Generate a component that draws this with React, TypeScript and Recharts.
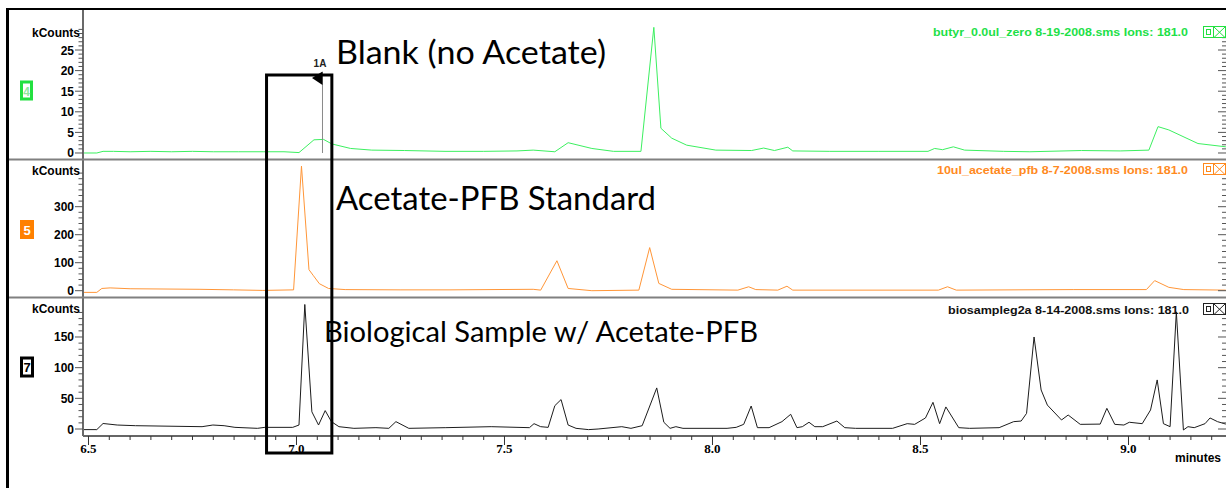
import React from 'react';
import { LineChart, Line, XAxis, YAxis } from 'recharts';

// ---------- data ----------
const blankTimes = [6.487, 6.52, 6.535, 6.56, 6.6, 6.65, 6.7, 6.75, 6.8, 6.86, 6.92, 6.97, 7.006, 7.042, 7.065, 7.085, 7.13, 7.181, 7.26, 7.357, 7.45, 7.53, 7.569, 7.621, 7.653, 7.71, 7.762, 7.828, 7.859, 7.876, 7.902, 7.938, 8.008, 8.094, 8.123, 8.149, 8.181, 8.193, 8.282, 8.4, 8.518, 8.534, 8.553, 8.579, 8.606, 8.7, 8.763, 8.887, 8.98, 9.049, 9.071, 9.097, 9.167, 9.234];
const blankValues = [0, 0, 0.4, 0.4, 0.3, 0.4, 0.3, 0.4, 0.3, 0.3, 0.3, 0.3, 0.1, 3.2, 3.3, 2.2, 1.1, 0.7, 0.6, 0.4, 0.4, 0.5, 0.7, 0.3, 2.5, 1.1, 0.4, 0.4, 30.5, 6.0, 3.6, 1.9, 0.7, 0.6, 1.2, 0.6, 1.4, 0.5, 0.4, 0.4, 0.4, 1.1, 0.8, 1.5, 0.7, 0.4, 0.3, 0.6, 0.5, 0.7, 6.4, 5.6, 2.3, 1.5];

const stdTimes = [6.487, 6.52, 6.532, 6.552, 6.6, 6.768, 6.849, 6.919, 6.993, 7.012, 7.03, 7.04, 7.055, 7.077, 7.117, 7.249, 7.369, 7.569, 7.587, 7.626, 7.653, 7.71, 7.823, 7.849, 7.871, 7.902, 8.061, 8.087, 8.104, 8.157, 8.179, 8.193, 8.543, 8.565, 8.586, 8.867, 9.043, 9.063, 9.097, 9.133, 9.234];
const stdValues = [-6, -6, 8, 10, 7, 5, 3, 1, 3, 445, 75, 55, 25, 8, 4, 3, 3, 5, 2, 107, 8, 0, 2, 154, 26, 5, 2, 14, 4, 2, 16, 2, 2, 14, 2, 4, 4, 36, 12, 4, 2];

const bioTimes = [6.487, 6.52, 6.535, 6.569, 6.613, 6.773, 6.799, 6.826, 6.852, 6.906,
  6.924, 6.991, 7.006, 7.02, 7.037, 7.053, 7.069, 7.084, 7.102, 7.138,
  7.191, 7.222, 7.239, 7.27, 7.359, 7.468, 7.56, 7.571, 7.587, 7.605,
  7.621, 7.636, 7.653, 7.672, 7.702, 7.725, 7.782, 7.804, 7.831, 7.866,
  7.883, 7.898, 7.912, 7.929, 8.035, 8.057, 8.075, 8.093, 8.108, 8.136,
  8.167, 8.188, 8.203, 8.216, 8.232, 8.246, 8.265, 8.299, 8.318, 8.344,
  8.433, 8.468, 8.486, 8.512, 8.53, 8.546, 8.561, 8.592, 8.618, 8.689,
  8.724, 8.742, 8.755, 8.773, 8.79, 8.805, 8.839, 8.855, 8.884, 8.932,
  8.948, 8.967, 8.989, 9.002, 9.033, 9.053, 9.069, 9.084, 9.1, 9.115,
  9.132, 9.143, 9.158, 9.184, 9.196, 9.214, 9.234];
const bioValues = [-1, -1, 9, 6.5, 5.4, 3.8, 6.5, 5.4, 2.7, 1.1,
  2.7, 2.7, 6.5, 203, 28, 6.5, 30, 12, 3.8, 1.1,
  2.2, 1.1, 12, 1.1, 2.2, 3.8, 2.2, 8.7, 3.8, 2.7,
  38, 48, 6.5, 1.1, -1, 0, 3.8, 1.1, 5.4, 67,
  11, 1.1, 3.8, 1.1, 1.1, 2.7, 7.6, 37.5, 2.2, 2.2,
  12, 24, 2.2, 3.8, 11, 3.8, 3.8, 13, 2.2, 1.1,
  1.1, 8.7, 7.6, 18, 43.5, 8.7, 36, 2.2, 1.1, 2.2,
  12, 13, 25.5, 150, 63.6, 39, 14.7, 22.8, 7.6, 8,
  33.7, 7.6, 6.5, 11, 8.7, 31, 80, 8.7, 3.8, 191,
  -1.6, 3.8, 2.2, 8.7, 18, 12, 8];

const blankMajorTicks = [0, 5, 10, 15, 20, 25];
const stdMajorTicks = [0, 100, 200, 300];
const bioMajorTicks = [0, 50, 100, 150];
const xMajorLabels = [6.5, 7.0, 7.5, 8.0, 8.5, 9.0];

const titles = [
  'butyr_0.0ul_zero 8-19-2008.sms Ions: 181.0',
  '10ul_acetate_pfb 8-7-2008.sms Ions: 181.0',
  'biosampleg2a 8-14-2008.sms Ions: 181.0',
];
const annotations = ['Blank (no Acetate)', 'Acetate-PFB Standard', 'Biological Sample w/ Acetate-PFB'];

// ---------- layout ----------
const W = 1226;
const H = 488;
const PLOT_LEFT = 83;
const PLOT_RIGHT = 1227;
const X_DOMAIN: [number, number] = [6.4868, 9.2368];
const xOf = (t: number) => PLOT_LEFT + ((t - X_DOMAIN[0]) / (X_DOMAIN[1] - X_DOMAIN[0])) * (PLOT_RIGHT - PLOT_LEFT);

const zip = (ts: number[], vs: number[]) => ts.map((t, i) => ({ t, v: vs[i] }));
const blankData = zip(blankTimes, blankValues);
const stdData = zip(stdTimes, stdValues);
const bioData = zip(bioTimes, bioValues);

const range = (a: number, b: number, s: number) => {
  const out: number[] = [];
  for (let v = a; v <= b + 1e-9; v += s) out.push(Math.round(v * 100) / 100);
  return out;
};
const xTicks = range(6.5, 9.2, 0.05);

const SANS = "'Liberation Sans', Arial, sans-serif";
const SERIF = "'Liberation Serif', 'Times New Roman', serif";

const makeYTick = (majors: number[]) => (props: any) => {
  const { x, y, payload } = props;
  const v = payload.value;
  const major = majors.indexOf(v) >= 0;
  return (
    <g>
      <line x1={x - (major ? 8 : 4.5)} x2={x} y1={y} y2={y} stroke="#555" strokeWidth={1} />
      <line x1={W - (major ? 8 : 4)} x2={W} y1={y} y2={y} stroke="#555" strokeWidth={1} />
      {major && (
        <text x={x - 9} y={y} dy={4.5} textAnchor="end" fontFamily={SANS} fontWeight="bold" fontSize={12} fill="#000">
          {v}
        </text>
      )}
    </g>
  );
};

const XTick = (props: any) => {
  const { x, y, payload } = props;
  const v = payload.value;
  const major = xMajorLabels.some((m) => Math.abs(m - v) < 1e-6);
  return (
    <g>
      <line x1={x} x2={x} y1={y} y2={y + (major ? 9 : 4)} stroke="#333" strokeWidth={1} />
      {major && (
        <text x={x} y={y + 17} textAnchor="middle" fontFamily={SERIF} fontWeight="bold" fontSize={13} fill="#000">
          {v.toFixed(1)}
        </text>
      )}
    </g>
  );
};

type PanelProps = {
  data: { t: number; v: number }[];
  top: number;
  bottom: number;
  domain: [number, number];
  ticks: number[];
  majors: number[];
  color: string;
  showX?: boolean;
};

const Panel = ({ data, top, bottom, domain, ticks, majors, color, showX }: PanelProps) => (
  <div style={{ position: 'absolute', left: 0, top: 0 }}>
    <LineChart
      width={PLOT_RIGHT}
      height={H}
      data={data}
      margin={{ top, bottom: showX ? 0 : H - bottom, left: 0, right: 0 }}
    >
      <XAxis
        dataKey="t"
        type="number"
        domain={X_DOMAIN}
        allowDataOverflow
        hide={!showX}
        height={H - bottom}
        ticks={xTicks}
        interval={0}
        tick={<XTick />}
        tickLine={false}
        tickSize={0}
        tickMargin={0}
        axisLine={{ stroke: '#333', strokeWidth: 1.5 }}
      />
      <YAxis
        type="number"
        domain={domain}
        allowDataOverflow
        width={PLOT_LEFT}
        ticks={ticks}
        interval={0}
        tick={makeYTick(majors)}
        tickLine={false}
        tickSize={0}
        tickMargin={0}
        axisLine={{ stroke: '#6a6a6a', strokeWidth: 2 }}
      />
      <Line
        dataKey="v"
        type="linear"
        stroke={color}
        strokeWidth={1}
        dot={false}
        activeDot={false}
        isAnimationActive={false}
      />
    </LineChart>
  </div>
);

const Icons = ({ y, color }: { y: number; color: string }) => (
  <g fill="none" stroke={color} strokeWidth={1}>
    <rect x={1203.5} y={y + 0.5} width={10} height={11} fill="#fff" />
    <rect x={1206.5} y={y + 3.5} width={4} height={5} />
    <rect x={1213.5} y={y + 0.5} width={12} height={11} fill="#fff" />
    <line x1={1214} y1={y + 1} x2={1225} y2={y + 11.5} />
    <line x1={1225} y1={y + 1} x2={1214} y2={y + 11.5} />
  </g>
);

const Overlay = () => {
  const boxL = xOf(6.928);
  const boxR = xOf(7.085);
  const markX = xOf(7.0625);
  return (
    <svg width={W} height={H} style={{ position: 'absolute', left: 0, top: 0, pointerEvents: 'none' }}>
      {/* frame */}
      <line x1={6} y1={9} x2={W} y2={9} stroke="#000" strokeWidth={2} />
      <line x1={7.5} y1={8} x2={7.5} y2={H} stroke="#000" strokeWidth={3} />
      {/* panel dividers */}
      <line x1={9} y1={159.5} x2={W} y2={159.5} stroke="#808080" strokeWidth={2} />
      <line x1={9} y1={297.5} x2={W} y2={297.5} stroke="#808080" strokeWidth={2} />

      {/* kCounts labels */}
      {[37, 175, 313].map((y) => (
        <text key={y} x={80} y={y} textAnchor="end" fontFamily={SANS} fontWeight="bold" fontSize={12} fill="#000">
          kCounts
        </text>
      ))}

      {/* panel number boxes */}
      <rect x={21.5} y={82} width={10} height={17} fill="#fff" stroke="#22e040" strokeWidth={3} />
      <text x={26.5} y={95.5} textAnchor="middle" fontFamily={SANS} fontWeight="bold" fontSize={12} fill="#8fe89c">4</text>
      <rect x={20} y={220} width={14} height={19} fill="#ff8000" />
      <text x={27} y={234.5} textAnchor="middle" fontFamily={SANS} fontWeight="bold" fontSize={13} fill="#fff">5</text>
      <rect x={21.5} y={358} width={11} height={18} fill="#fff" stroke="#000" strokeWidth={3} />
      <text x={27} y={372} textAnchor="middle" fontFamily={SANS} fontWeight="bold" fontSize={13} fill="#000">7</text>

      {/* titles */}
      <text x={933} y={36} textLength={255} lengthAdjust="spacingAndGlyphs" fontFamily={SANS} fontWeight="bold" fontSize={11.5} fill="#1ee048">
        {titles[0]}
      </text>
      <text x={937} y={173.5} textLength={251} lengthAdjust="spacingAndGlyphs" fontFamily={SANS} fontWeight="bold" fontSize={11.5} fill="#ff8a1e">
        {titles[1]}
      </text>
      <text x={948} y={313.5} textLength={241} lengthAdjust="spacingAndGlyphs" fontFamily={SANS} fontWeight="bold" fontSize={11.5} fill="#111">
        {titles[2]}
      </text>
      <Icons y={26} color="#22e040" />
      <Icons y={163} color="#ff8a1e" />
      <Icons y={303} color="#222" />

      {/* annotations */}
      <text x={336} y={63.5} textLength={270} lengthAdjust="spacingAndGlyphs" fontFamily="Lato, 'Open Sans', sans-serif" fontSize={32} fill="#000">
        {annotations[0]}
      </text>
      <text x={336} y={210} textLength={320} lengthAdjust="spacingAndGlyphs" fontFamily="Lato, 'Open Sans', sans-serif" fontSize={32} fill="#000">
        {annotations[1]}
      </text>
      <text x={324} y={341.5} textLength={434} lengthAdjust="spacingAndGlyphs" fontFamily="Lato, 'Open Sans', sans-serif" fontSize={28} fill="#000">
        {annotations[2]}
      </text>

      {/* 1A marker */}
      <line x1={markX} y1={72} x2={markX} y2={153} stroke="#8a8a8a" strokeWidth={1} />
      <polygon points={`${markX},71.5 ${markX - 10.5},78 ${markX},85`} fill="#000" />
      <text x={320} y={67} textAnchor="middle" fontFamily={SANS} fontWeight="bold" fontSize={10} fill="#222">1A</text>

      {/* highlight box */}
      <rect x={boxL} y={75} width={boxR - boxL} height={378} fill="none" stroke="#000" strokeWidth={3} />

      {/* x axis title */}
      <text x={1221} y={462} textAnchor="end" fontFamily={SANS} fontWeight="bold" fontSize={12} fill="#000">minutes</text>
    </svg>
  );
};

export default function App() {
  return (
    <div style={{ position: 'absolute', left: 0, top: 0, width: W, height: H, overflow: 'hidden', background: '#fff' }}>
      <Panel data={blankData} top={10} bottom={160} domain={[-1.7, 34.71]} ticks={range(0, 30, 1)} majors={blankMajorTicks} color="#3cf060" />
      <Panel data={stdData} top={160} bottom={297} domain={[-22.5, 466.8]} ticks={range(0, 420, 20)} majors={stdMajorTicks} color="#ff9638" />
      <Panel data={bioData} top={297} bottom={436} domain={[-11.4, 215.2]} ticks={range(0, 190, 10)} majors={bioMajorTicks} color="#1c1c1c" showX />
      <Overlay />
    </div>
  );
}
